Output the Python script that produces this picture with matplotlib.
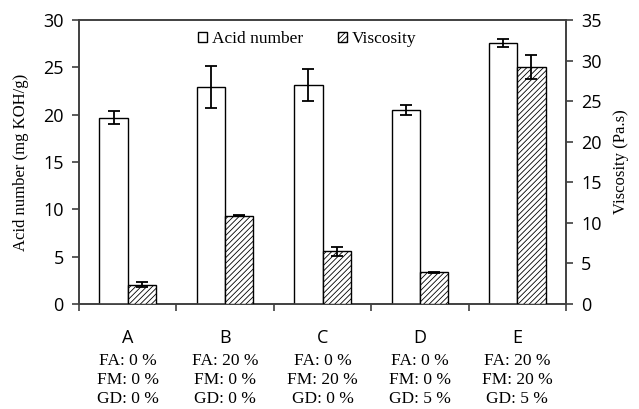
import numpy as np
import matplotlib.pyplot as plt

# data
groups = ['A', 'B', 'C', 'D', 'E']
compositions = ['FA: 0 %\nFM: 0 %\nGD: 0 %',
                'FA: 20 %\nFM: 0 %\nGD: 0 %',
                'FA: 0 %\nFM: 20 %\nGD: 0 %',
                'FA: 0 %\nFM: 0 %\nGD: 5 %',
                'FA: 20 %\nFM: 20 %\nGD: 5 %']
acid_number = [19.7, 22.9, 23.1, 20.5, 27.6]
acid_err = [0.7, 2.2, 1.7, 0.55, 0.4]
viscosity = [2.4, 10.9, 6.5, 3.9, 29.2]
visc_err = [0.35, 0.08, 0.55, 0.1, 1.45]

plt.rcParams['hatch.linewidth'] = 0.6
plt.rcParams['hatch.color'] = '#333333'

serif = 'Liberation Serif'
sans = 'Open Sans'
axcol = '#404040'

fig = plt.figure(figsize=(6.39, 4.09), dpi=100)
ax = fig.add_axes([0.1236, 0.2567, 0.7622, 0.6944])
ax2 = ax.twinx()

x = np.arange(len(groups))
w = 0.29

b1 = ax.bar(x - w / 2, acid_number, w, color='white', edgecolor='black',
            linewidth=1.0, yerr=acid_err, capsize=4,
            error_kw=dict(elinewidth=1.3, capthick=1.3, ecolor='black'),
            label='Acid number', zorder=3)
b2 = ax2.bar(x + w / 2, viscosity, w, color='white', edgecolor='black',
             linewidth=1.0, hatch='//////', yerr=visc_err, capsize=4,
             error_kw=dict(elinewidth=1.3, capthick=1.3, ecolor='black'),
             label='Viscosity', zorder=3)

ax.set_xlim(-0.5, len(groups) - 0.5)
ax.set_ylim(0, 30)
ax2.set_ylim(0, 35)
ax.set_yticks(np.arange(0, 31, 5))
ax2.set_yticks(np.arange(0, 36, 5))

ax.set_xticks(np.arange(-0.5, len(groups), 1.0))
ax.set_xticklabels([])
ax.tick_params(axis='x', length=5, width=1.2, color=axcol, direction='out')
ax.tick_params(axis='y', length=5, width=1.2, color=axcol, labelsize=13,
               pad=6)
ax2.tick_params(axis='y', length=5, width=1.2, color=axcol, labelsize=13,
                pad=6)
for a in (ax, ax2):
    for lab in a.get_yticklabels():
        lab.set_fontfamily(sans)
    for s in a.spines.values():
        s.set_color(axcol)
        s.set_linewidth(1.2)

ax.set_ylabel('Acid number (mg KOH/g)', fontfamily=serif, fontsize=12,
              labelpad=10)
ax2.set_ylabel('Viscosity (Pa.s)', fontfamily=serif, fontsize=12,
               labelpad=8)

for i, g in enumerate(groups):
    ax.text(x[i], -0.12, g, transform=ax.get_xaxis_transform(),
            ha='center', va='center', fontfamily=sans, fontsize=13)
    ax.text(x[i], -0.172, compositions[i], transform=ax.get_xaxis_transform(),
            ha='center', va='top', fontfamily=serif, fontsize=12.5,
            linespacing=1.26)

leg = ax.legend([b1, b2], ['Acid number', 'Viscosity'], loc='upper center',
                bbox_to_anchor=(0.468, 1.015), ncol=2, frameon=False,
                prop={'family': serif, 'size': 12.5}, handlelength=0.55,
                handleheight=0.55, handletextpad=0.25, columnspacing=2.0)

fig.savefig('out.png', dpi=100)
